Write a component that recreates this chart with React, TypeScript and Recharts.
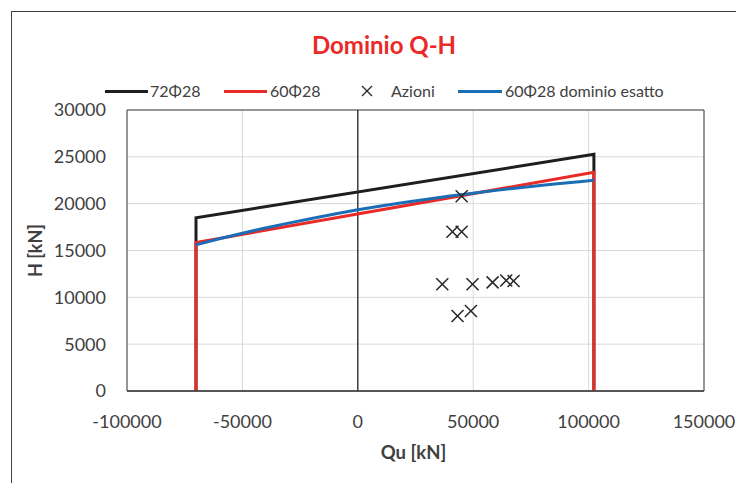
import React from 'react';
import {
  ComposedChart,
  Line,
  Scatter,
  XAxis,
  YAxis,
  CartesianGrid,
  ReferenceLine,
  ReferenceArea,
} from 'recharts';

const FONT = "Lato, 'Open Sans', sans-serif";
const TEXT = '#404040';

const xTicks = [-100000, -50000, 0, 50000, 100000, 150000];
const yTicks = [0, 5000, 10000, 15000, 20000, 25000, 30000];

// outline of the two domains
const frameQu = [-70100, -70100, 102300, 102300];
const h72 = [0, 18500, 25270, 0];
const h60 = [0, 15850, 23350, 0];

// exact domain (60Φ28)
const exactQu = [-70100, -60000, -50000, -40000, -30000, -20000, -10000, 0, 10000, 20000, 30000, 40000, 50000, 60000, 70000, 80000, 90000, 102300];
const exactH = [15600, 16250, 16850, 17400, 17920, 18420, 18900, 19350, 19760, 20130, 20480, 20810, 21120, 21420, 21700, 21960, 22200, 22500];

// actions
const azioniQu = [45000, 41000, 45000, 36600, 49700, 58400, 64300, 67500, 43200, 49000];
const azioniH = [20800, 17000, 17000, 11400, 11400, 11600, 11800, 11750, 8000, 8550];

const s72 = frameQu.map((x, i) => ({ x, y: h72[i] }));
const s60 = frameQu.map((x, i) => ({ x, y: h60[i] }));
const sExact = exactQu.map((x, i) => ({ x, y: exactH[i] }));
const sAzioni = azioniQu.map((x, i) => ({ x, y: azioniH[i] }));

const BLACK = '#1e1e1e';
const RED = '#ea2a27';
const BLUE = '#1b6eb6';

const Cross = (props: any) => {
  const { cx, cy } = props;
  const r = 6;
  return (
    <g>
      <line x1={cx - r} y1={cy - r} x2={cx + r} y2={cy + r} stroke="#262626" strokeWidth={1.5} />
      <line x1={cx - r} y1={cy + r} x2={cx + r} y2={cy - r} stroke="#262626" strokeWidth={1.5} />
    </g>
  );
};

const LegendBlock = () => {
  const lineStyle = (left: number, width: number, color: string): React.CSSProperties => ({
    position: 'absolute',
    left,
    top: 10.5,
    width,
    height: 3,
    background: color,
  });
  const textStyle = (left: number): React.CSSProperties => ({
    position: 'absolute',
    left,
    top: 0,
    lineHeight: '24px',
    whiteSpace: 'nowrap',
  });
  return (
    <div style={{ position: 'absolute', left: 0, top: 79, width: 736, height: 24, fontFamily: FONT, fontSize: 16, color: TEXT }}>
      <div style={lineStyle(105, 43, BLACK)} />
      <div style={textStyle(150)}>72Φ28</div>
      <div style={lineStyle(224, 43, RED)} />
      <div style={textStyle(270)}>60Φ28</div>
      <svg style={{ position: 'absolute', left: 360, top: 5 }} width={14} height={14}>
        <line x1={2} y1={2} x2={12} y2={12} stroke="#262626" strokeWidth={1.3} />
        <line x1={2} y1={12} x2={12} y2={2} stroke="#262626" strokeWidth={1.3} />
      </svg>
      <div style={textStyle(391)}>Azioni</div>
      <div style={lineStyle(458, 44, BLUE)} />
      <div style={textStyle(505)}>60Φ28 dominio esatto</div>
    </div>
  );
};

const YLabel = (props: any) => {
  const { viewBox } = props;
  const cy = viewBox.y + viewBox.height / 2;
  const cx = 35;
  return (
    <text
      x={cx}
      y={cy}
      transform={`rotate(-90, ${cx}, ${cy})`}
      textAnchor="middle"
      dominantBaseline="central"
      fontFamily={FONT}
      fontSize={18}
      fontWeight="bold"
      fill={TEXT}
    >
      H [kN]
    </text>
  );
};

const XLabel = (props: any) => {
  const { viewBox } = props;
  const cx = viewBox.x + viewBox.width / 2 - 2;
  return (
    <text
      x={cx}
      y={452}
      textAnchor="middle"
      dominantBaseline="central"
      fontFamily={FONT}
      fontSize={18.5}
      fontWeight="bold"
      fill={TEXT}
    >
      Qu [kN]
    </text>
  );
};

export default function App() {
  return (
    <div
      style={{
        position: 'absolute',
        left: 0,
        top: 0,
        width: 736,
        height: 483,
        overflow: 'hidden',
        background: '#ffffff',
      }}
    >
      <div
        style={{
          position: 'absolute',
          left: 11,
          top: 11,
          width: 760,
          height: 520,
          border: '1.5px solid #404040',
          boxSizing: 'border-box',
        }}
      />
      <div
        style={{
          position: 'absolute',
          left: 384,
          top: 30,
          transform: 'translateX(-50%)',
          whiteSpace: 'nowrap',
          fontFamily: FONT,
          fontSize: 24,
          fontWeight: 'bold',
          color: RED,
          lineHeight: '30px',
        }}
      >
        Dominio Q-H
      </div>
      <LegendBlock />
      <div style={{ position: 'absolute', left: 0, top: 0 }}>
        <ComposedChart
          width={736}
          height={483}
          margin={{ top: 110, right: 32, bottom: 0, left: 0 }}
        >
          <CartesianGrid stroke="#d9d9d9" strokeWidth={1} />
          <XAxis
            type="number"
            dataKey="x"
            domain={[-100000, 150000]}
            ticks={xTicks}
            allowDataOverflow
            height={92}
            tickSize={0}
            tickMargin={24}
            axisLine={{ stroke: '#404040', strokeWidth: 1.5 }}
            tick={{ fill: TEXT, fontSize: 18, fontFamily: FONT }}
            label={<XLabel />}
          />
          <YAxis
            type="number"
            dataKey="y"
            domain={[0, 30000]}
            ticks={yTicks}
            allowDataOverflow
            width={127}
            tickSize={0}
            tickMargin={21}
            axisLine={false}
            tick={{ fill: TEXT, fontSize: 18, fontFamily: FONT }}
            label={<YLabel />}
          />
          <ReferenceArea
            x1={-100000}
            x2={150000}
            y1={0}
            y2={30000}
            fill="none"
            stroke="#404040"
            strokeWidth={1}
            ifOverflow="visible"
          />
          <ReferenceLine x={0} stroke="#262626" strokeWidth={1.3} />
          <Line
            data={s72}
            dataKey="y"
            type="linear"
            stroke={BLACK}
            strokeWidth={3}
            dot={false}
            activeDot={false}
            isAnimationActive={false}
          />
          <Line
            data={s60}
            dataKey="y"
            type="linear"
            stroke={RED}
            strokeWidth={3}
            dot={false}
            activeDot={false}
            isAnimationActive={false}
          />
          <Scatter
            data={sAzioni}
            dataKey="y"
            shape={<Cross />}
            isAnimationActive={false}
          />
          <Line
            data={sExact}
            dataKey="y"
            type="monotone"
            stroke={BLUE}
            strokeWidth={3}
            dot={false}
            activeDot={false}
            isAnimationActive={false}
          />
        </ComposedChart>
      </div>
    </div>
  );
}
